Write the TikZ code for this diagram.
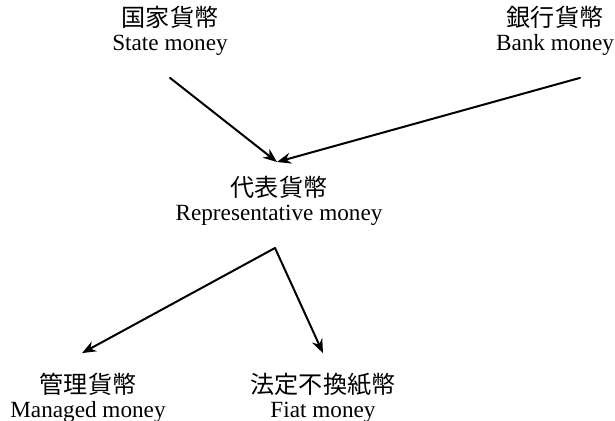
\documentclass[tikz,border=0pt]{standalone}
\usepackage{fontspec}
\setmainfont{Liberation Serif}
\newfontfamily\cjk[Scale=1.04]{Noto Sans CJK JP}
\usetikzlibrary{arrows.meta}
\begin{document}
\begin{tikzpicture}[x=0.5pt,y=-0.5pt,line cap=round,
    money/.style={align=center,inner sep=0pt,font=\fontsize{11.6}{11.8}\selectfont},
    arr/.style={-{Stealth[length=7pt,width=5.5pt]},line width=1pt}]
    \useasboundingbox (0,0) rectangle (615,421);
    \node[money] (state) at (170,31) {{\cjk 国家貨幣}\\State money};
    \node[money] (bank) at (555,31) {{\cjk 銀行貨幣}\\Bank money};
    \node[money] (repr) at (279,201) {{\cjk 代表貨幣}\\Representative money};
    \node[money] (managed) at (88,398) {{\cjk 管理貨幣}\\Managed money};
    \node[money] (fiat) at (323,398) {{\cjk 法定不換紙幣}\\Fiat money};
    \coordinate (join) at (277,162);
    \coordinate (fork) at (275,248);
    \draw[arr] (state.south) ++(0,22) -- (join);
    \draw[arr] (bank.south) ++(25,22) -- (join);
    \draw[arr] (fork) -- ([xshift=-3pt,yshift=10pt]managed.north);
    \draw[arr] (fork) -- ([yshift=10pt]fiat.north);
\end{tikzpicture}
\end{document}
